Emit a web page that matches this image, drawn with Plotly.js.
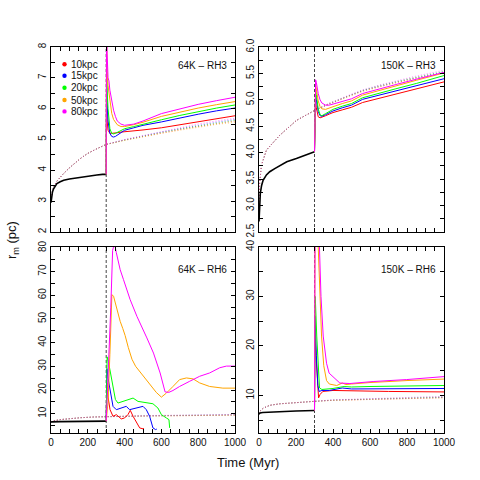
<!DOCTYPE html>
<html>
<head>
<meta charset="utf-8">
<script src="https://cdn.plot.ly/plotly-3.0.1.min.js"></script>
<style>html,body{margin:0;padding:0;background:#fff;}#chart{width:480px;height:480px;}</style>
</head>
<body>
<div id="chart"></div>
<script>
// ---------- shared ----------
const seriesLabels = ['10kpc','15kpc','20kpc','50kpc','80kpc'];
const seriesColors = ['#FF0000','#0000FF','#00FF00','#FFA500','#FF00FF'];
const panelLabels = ['64K \u2013 RH3','150K \u2013 RH3','64K \u2013 RH6','150K \u2013 RH6'];
const xTickVals = [0,200,400,600,800,1000];
const switchTime = 300;

// ---------- panel 1 : 64K - RH3 ----------
const p1BlackT = [0,3,8,14,22,32,50,69,100,130,159,200,249,280,300];
const p1BlackV = [2.95,3.15,3.3,3.4,3.5,3.57,3.63,3.68,3.72,3.75,3.78,3.81,3.85,3.87,3.87];
const p1DotBaseT = [0,5,14,32,69,100,159,200,249,300];
const p1DotBaseV = [3.0,3.25,3.46,3.65,3.9,4.08,4.38,4.55,4.7,4.84];
const p1DotTailT = [400,500,600,700,800,900,1000];
const p1DotRed = [4.98,5.1,5.21,5.32,5.42,5.52,5.6];
const p1DotBlue = [4.99,5.12,5.24,5.35,5.46,5.56,5.65];
const p1DotGreen = [4.98,5.11,5.23,5.34,5.44,5.54,5.62];
const p1DotOrange = [4.97,5.09,5.2,5.3,5.4,5.49,5.56];
const p1DotMagenta = [5.0,5.13,5.26,5.38,5.5,5.6,5.69];
const p1T = [300,302,305,310,315,320,330,340,350,360,380,400,450,500,600,700,800,900,1000];
const p1Red     = [3.87,6.5,5.6,5.3,5.25,5.2,5.2,5.2,5.21,5.22,5.24,5.25,5.27,5.31,5.38,5.48,5.58,5.68,5.77];
const p1Blue    = [3.87,7.0,6.2,5.6,5.35,5.2,5.1,5.08,5.1,5.14,5.22,5.3,5.38,5.46,5.57,5.7,5.82,5.93,6.02];
const p1Green   = [3.87,7.5,6.6,6.0,5.6,5.35,5.2,5.18,5.2,5.23,5.3,5.35,5.42,5.5,5.64,5.78,5.91,6.02,6.12];
const p1Orange  = [3.87,8.5,7.2,6.75,6.5,6.2,5.85,5.65,5.55,5.48,5.42,5.42,5.48,5.56,5.75,5.89,6.02,6.13,6.23];
const p1Magenta = [3.87,9.5,7.8,7.0,6.9,6.6,6.25,5.95,5.75,5.6,5.5,5.46,5.5,5.6,5.84,6.0,6.14,6.26,6.37];

// ---------- panel 2 : 150K - RH3 ----------
const p2BlackT = [0,3,7,14,22,40,58,85,112,150,202,250,300];
const p2BlackV = [2.7,3.0,3.23,3.38,3.48,3.58,3.64,3.7,3.76,3.83,3.89,3.95,4.02];
const p2DotBaseT = [0,3,13,40,112,202,300];
const p2DotBaseV = [2.9,3.4,3.76,4.05,4.33,4.61,4.8];
const p2DotTailT = [382,480,562,650,742,850,1000];
const p2DotRed = [4.93,5.06,5.17,5.25,5.33,5.41,5.52];
const p2DotBlue = [4.93,5.07,5.18,5.26,5.34,5.42,5.53];
const p2DotGreen = [4.94,5.07,5.18,5.27,5.35,5.43,5.54];
const p2DotOrange = [4.92,5.06,5.16,5.25,5.33,5.41,5.51];
const p2DotMagenta = [4.94,5.08,5.19,5.28,5.36,5.45,5.56];
const p2T = [300,302,306,310,315,320,330,340,360,380,400,450,500,560,650,740,850,1000];
const p2Red     = [4.02,4.9,4.95,4.85,4.75,4.68,4.66,4.67,4.7,4.73,4.76,4.81,4.86,4.95,5.03,5.12,5.21,5.34];
const p2Blue    = [4.02,5.0,5.1,5.0,4.88,4.78,4.7,4.69,4.72,4.76,4.79,4.85,4.9,5.01,5.09,5.17,5.26,5.40];
const p2Green   = [4.02,5.1,5.2,5.1,4.95,4.83,4.72,4.7,4.74,4.78,4.82,4.88,4.93,5.04,5.13,5.21,5.31,5.46];
const p2Orange  = [4.02,5.2,5.3,5.2,5.08,4.98,4.87,4.83,4.82,4.84,4.87,4.93,4.98,5.09,5.18,5.27,5.37,5.51];
const p2Magenta = [4.02,5.3,5.38,5.33,5.22,5.12,5.0,4.94,4.9,4.9,4.92,4.97,5.02,5.12,5.21,5.29,5.39,5.52];

// ---------- panel 3 : 64K - RH6 ----------
const p3BlackT = [0,5,50,150,300];
const p3BlackV = [6.4,6.55,6.65,6.75,6.85];
const p3DotBaseT = [0,20,50,100,160,230,300];
const p3DotBaseV = [6.6,7.1,7.5,7.9,8.3,8.6,8.8];
const p3DotTailT = [400,500,600,700,800,900,1000];
const p3DotRed = [8.9,9.0,9.1,9.2,9.3,9.35,9.4];
const p3DotBlue = [8.95,9.05,9.15,9.25,9.35,9.45,9.5];
const p3DotGreen = [8.95,9.1,9.2,9.3,9.4,9.5,9.6];
const p3DotOrange = [8.9,9.0,9.1,9.15,9.2,9.3,9.35];
const p3DotMagenta = [9.0,9.15,9.3,9.4,9.5,9.6,9.7];
const p3RedT = [300,303,310,321,337,355,382,400,418,431,446,464,482,500,505];
const p3Red  = [6.85,23,17,11.7,8.9,9.6,7.8,8.2,9.6,11.4,8.9,6.1,4.0,3.6,3.8];
const p3BlueT = [300,304,310,321,337,355,382,409,427,446,482,500,518,536,554,568,575];
const p3Blue  = [6.85,29,25,20,13.1,11.7,12.4,13.1,11.7,12,12.8,13.1,11.7,8.9,4,3.3,3.5];
const p3GreenT = [300,305,312,325,337,350,364,391,427,446,473,518,554,581,600,627,641,645];
const p3Green  = [6.85,34,32,26,21.5,16,14.5,15.2,15.9,16.6,15.2,14.5,14.2,12.4,9.6,8.2,7.5,4];
const p3OrangeT = [300,310,320,331,340,358,376,390,403,420,440,460,480,500,520,540,572,600,627,663,699,736,772,808,862,934,1000];
const p3Orange  = [6.85,15,35,60.3,59.6,54,49,46,43,38,33,30,28,26,24,22,19,17,18.7,21.5,24.4,25.1,24.7,23,21.5,20.8,20.8];
const p3MagentaT = [300,310,325,335,345,355,376,394,430,467,503,521,557,593,620,640,663,699,754,808,862,917,953,1000];
const p3Magenta  = [6.85,25,55,79,82,78,70.8,66.6,58.2,51.1,45.5,42,35.6,27.2,19.2,19,19.8,21.5,23.7,25.8,27.2,29.4,30.1,30.1];

// ---------- panel 4 : 150K - RH6 ----------
const p4BlackT = [0,5,20,60,120,200,300];
const p4BlackV = [6.2,6.45,6.55,6.65,6.75,6.85,6.95];
const p4DotBaseT = [0,8,22,58,112,202,300];
const p4DotBaseV = [6.3,6.9,7.4,8.0,8.3,8.6,8.8];
const p4DotTailT = [400,500,600,700,800,900,1000];
const p4DotRed = [9.0,9.1,9.2,9.3,9.4,9.5,9.55];
const p4DotBlue = [9.05,9.15,9.25,9.35,9.45,9.55,9.6];
const p4DotGreen = [9.05,9.2,9.3,9.4,9.5,9.6,9.7];
const p4DotOrange = [9.0,9.1,9.2,9.25,9.35,9.4,9.5];
const p4DotMagenta = [9.1,9.25,9.4,9.5,9.6,9.7,9.8];
const p4RedT = [300,302,308,315,322,330,345,400,500,700,1000];
const p4Red  = [6.95,23,18,13,9.5,10.2,10.8,11,10.9,10.8,10.7];
const p4BlueT = [300,303,310,318,325,340,380,450,500,700,1000];
const p4Blue  = [6.95,26,18,12,10.8,11,11,11.5,11.3,11.4,11.4];
const p4GreenT = [300,304,312,320,327,340,400,460,500,600,800,1000];
const p4Green  = [6.95,30,22,15,11.5,11.2,11.4,11.8,11.7,11.8,11.9,12.0];
const p4OrangeT = [300,303,318,328,338,350,365,380,420,450,470,500,600,800,1000];
const p4Orange  = [6.95,45,42,30,22,16,13,12.3,12,12.5,12.2,12.3,12.6,13,13.3];
const p4MagentaT = [300,303,325,335,347,365,379,401,437,491,617,798,1000];
const p4Magenta  = [6.95,45,42,30,22,16.5,14.5,13.8,12.5,12.4,12.8,13.2,13.8];

// ---------- assemble ----------
const panels = [
  {xa:'x', ya:'y', range:[2,8], dtick:1, minor:0.5,
   black:[p1BlackT,p1BlackV], dotBase:[p1DotBaseT,p1DotBaseV], dotTailT:p1DotTailT,
   dots:[p1DotRed,p1DotBlue,p1DotGreen,p1DotOrange,p1DotMagenta],
   lines:[[p1T,p1Red],[p1T,p1Blue],[p1T,p1Green],[p1T,p1Orange],[p1T,p1Magenta]]},
  {xa:'x2', ya:'y2', range:[2.5,6.0], dtick:0.5, minor:0.25,
   black:[p2BlackT,p2BlackV], dotBase:[p2DotBaseT,p2DotBaseV], dotTailT:p2DotTailT,
   dots:[p2DotRed,p2DotBlue,p2DotGreen,p2DotOrange,p2DotMagenta],
   lines:[[p2T,p2Red],[p2T,p2Blue],[p2T,p2Green],[p2T,p2Orange],[p2T,p2Magenta]]},
  {xa:'x3', ya:'y3', range:[1.85,80.4], dtick:10, minor:5,
   black:[p3BlackT,p3BlackV], dotBase:[p3DotBaseT,p3DotBaseV], dotTailT:p3DotTailT,
   dots:[p3DotRed,p3DotBlue,p3DotGreen,p3DotOrange,p3DotMagenta],
   lines:[[p3RedT,p3Red],[p3BlueT,p3Blue],[p3GreenT,p3Green],[p3OrangeT,p3Orange],[p3MagentaT,p3Magenta]]},
  {xa:'x4', ya:'y4', range:[2.4,40], dtick:10, minor:5,
   black:[p4BlackT,p4BlackV], dotBase:[p4DotBaseT,p4DotBaseV], dotTailT:p4DotTailT,
   dots:[p4DotRed,p4DotBlue,p4DotGreen,p4DotOrange,p4DotMagenta],
   lines:[[p4RedT,p4Red],[p4BlueT,p4Blue],[p4GreenT,p4Green],[p4OrangeT,p4Orange],[p4MagentaT,p4Magenta]]}
];

const traces = [];
panels.forEach(p => {
  p.dots.forEach((tail, i) => {
    traces.push({x: p.dotBase[0].concat(p.dotTailT), y: p.dotBase[1].concat(tail),
      xaxis:p.xa, yaxis:p.ya, mode:'lines', showlegend:false, hoverinfo:'skip',
      opacity:0.5, line:{color:seriesColors[i], width:1, dash:'1px,2px'}});
  });
  traces.push({x:p.black[0], y:p.black[1], xaxis:p.xa, yaxis:p.ya, mode:'lines',
    showlegend:false, line:{color:'#000', width:1.6}});
  p.lines.forEach((s, i) => {
    traces.push({x:s[0], y:s[1], xaxis:p.xa, yaxis:p.ya, mode:'lines',
      showlegend:false, line:{color:seriesColors[i], width:1}});
  });
});

const font = 'Liberation Sans, Arial, Helvetica, sans-serif';
function xAxis(domain, anchor, labels){
  return {domain:domain, anchor:anchor, range:[0,1000], tickvals:xTickVals,
    ticks:'inside', ticklen:4, tickwidth:1, tickcolor:'#000',
    showline:true, linecolor:'#000', linewidth:1, mirror:'ticks',
    showgrid:false, zeroline:false, showticklabels:labels,
    minor:{dtick:50, tick0:0, ticks:'inside', ticklen:4, tickcolor:'#000'},
    tickfont:{family:font, size:10, color:'#111'}};
}
function yAxis(domain, anchor, p){
  return {domain:domain, anchor:anchor, range:p.range, dtick:p.dtick, tick0:0,
    tickformat: p.dtick < 1 ? '.1f' : 'd',
    ticks:'inside', ticklen:4, tickwidth:1, tickcolor:'#000', tickangle:-90,
    showline:true, linecolor:'#000', linewidth:1, mirror:'ticks',
    showgrid:false, zeroline:false,
    minor:{dtick:p.minor, tick0:0, ticks:'inside', ticklen:4, tickcolor:'#000'},
    tickfont:{family:font, size:10, color:'#111'}};
}
const xL = [0, 0.4682], xR = [0.5293, 1];
const yT = [0.5207, 1], yB = [0, 0.4819];

const shapes = [];
const annotations = [];
panels.forEach((p, k) => {
  shapes.push({type:'line', xref:p.xa, yref:p.ya + ' domain', x0:switchTime, x1:switchTime, y0:0, y1:1,
    layer:'below', line:{color:'#444', width:1, dash:'3px,2px'}});
  annotations.push({xref:p.xa + ' domain', yref:p.ya + ' domain', x:1, y:1, xshift:-6,
    yshift: k < 2 ? -18 : -23, xanchor:'right', yanchor:'middle', showarrow:false,
    text:panelLabels[k], font:{family:font, size:10, color:'#111'}});
});
// legend (top-left panel)
const legendY = [0.9065, 0.845, 0.78, 0.7135, 0.652];
seriesLabels.forEach((lab, i) => {
  shapes.push({type:'circle', xref:'x domain', yref:'y domain', xsizemode:'pixel', ysizemode:'pixel',
    xanchor:0.0734, yanchor:legendY[i], x0:-2.2, x1:2.2, y0:-2.2, y1:2.2,
    fillcolor:seriesColors[i], line:{width:0}});
  annotations.push({xref:'x domain', yref:'y domain', x:0.0995, y:legendY[i], xanchor:'left', yanchor:'middle',
    showarrow:false, text:lab, font:{family:font, size:10, color:'#111'}});
});
annotations.push({xref:'paper', yref:'paper', x:0.5, y:0, yshift:-29, xanchor:'center', yanchor:'middle',
  showarrow:false, text:'Time (Myr)', font:{family:font, size:13, color:'#111'}});
annotations.push({xref:'paper', yref:'paper', x:0, y:0.5, xshift:-39, xanchor:'center', yanchor:'middle',
  textangle:-90, showarrow:false, text:'r<sub>m</sub> (pc)', font:{family:font, size:13, color:'#111'}});

const layout = {
  width:480, height:480,
  margin:{l:51, r:36, t:47, b:47, pad:0},
  paper_bgcolor:'#fff', plot_bgcolor:'#fff',
  showlegend:false,
  xaxis: xAxis(xL, 'y', false),
  xaxis2: xAxis(xR, 'y2', false),
  xaxis3: xAxis(xL, 'y3', true),
  xaxis4: xAxis(xR, 'y4', true),
  yaxis: yAxis(yT, 'x', panels[0]),
  yaxis2: yAxis(yT, 'x2', panels[1]),
  yaxis3: yAxis(yB, 'x3', panels[2]),
  yaxis4: yAxis(yB, 'x4', panels[3]),
  shapes: shapes,
  annotations: annotations
};

Plotly.newPlot('chart', traces, layout, {staticPlot:true, displayModeBar:false});
</script>
</body>
</html>
